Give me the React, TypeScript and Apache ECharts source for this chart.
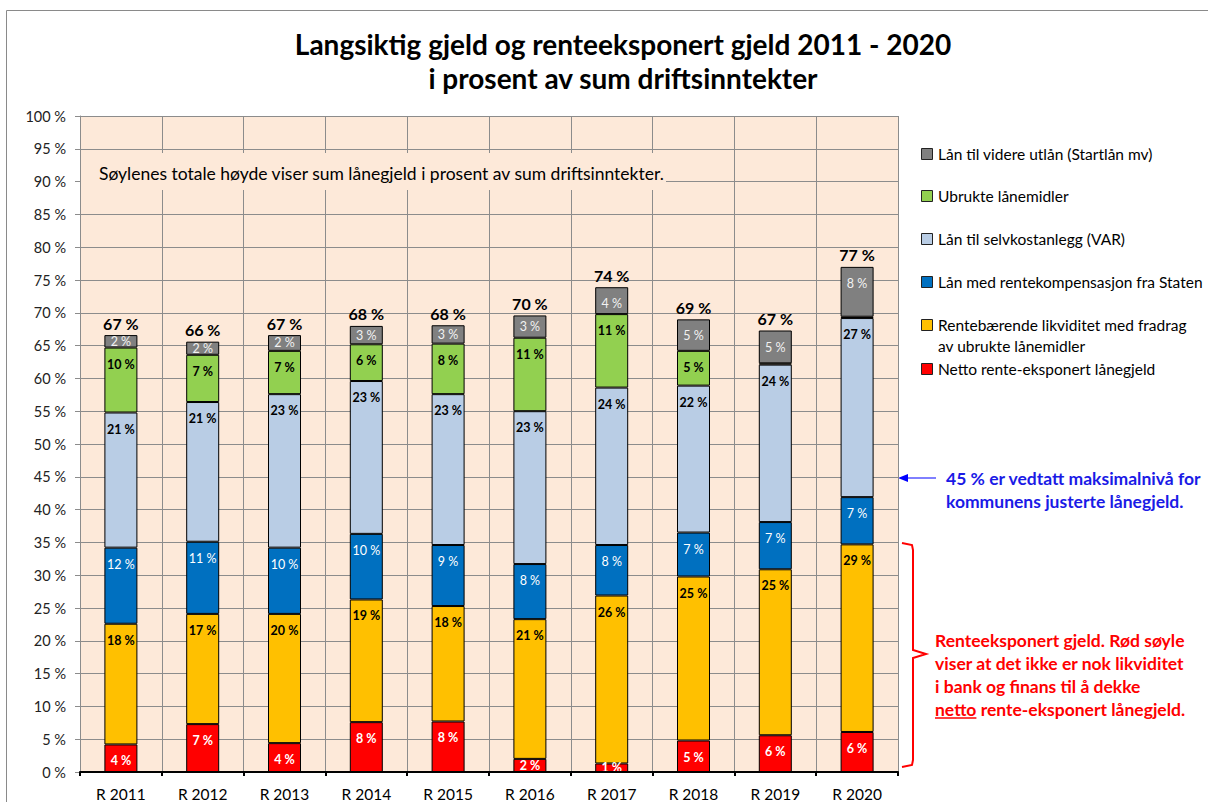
import React, { useEffect, useRef } from 'react';
import * as echarts from 'echarts';

const categories = ['R 2011', 'R 2012', 'R 2013', 'R 2014', 'R 2015', 'R 2016', 'R 2017', 'R 2018', 'R 2019', 'R 2020'];
const netto = [4.2, 7.3, 4.4, 7.6, 7.7, 2.0, 1.3, 4.8, 5.6, 6.1];
const likviditet = [18.4, 16.8, 19.7, 18.7, 17.6, 21.3, 25.6, 25.0, 25.3, 28.6];
const rentekomp = [11.6, 11.0, 10.1, 10.0, 9.3, 8.4, 7.7, 6.7, 7.2, 7.2];
const selvkost = [20.6, 21.3, 23.4, 23.3, 23.0, 23.3, 24.0, 22.4, 24.0, 27.3];
const ubrukte = [9.9, 7.2, 6.6, 5.6, 7.7, 11.2, 11.2, 5.3, 0.2, 0.2];
const videre = [1.9, 2.0, 2.4, 2.8, 2.8, 3.4, 4.1, 4.8, 5.0, 7.6];

const titleLines = ['Langsiktig gjeld og renteeksponert gjeld 2011 - 2020', 'i prosent av sum driftsinntekter'];
const noteText = 'Søylenes totale høyde viser sum lånegjeld i prosent av sum driftsinntekter.';
const blueNote = ['45 % er vedtatt maksimalnivå for', 'kommunens justerte lånegjeld.'];
const redNote = ['Renteeksponert gjeld. Rød søyle', 'viser at det ikke er nok likviditet', 'i bank og finans til å dekke'];
const redNoteLast = ['netto', ' rente-eksponert lånegjeld.'];

const FONT = 'Lato, "Open Sans", sans-serif';

const seriesMeta = [
  { name: 'Netto rente-eksponert lånegjeld', data: netto, color: '#FF0000', labelColor: '#FFFFFF', bold: true },
  { name: 'Rentebærende likviditet med fradrag\nav ubrukte lånemidler', data: likviditet, color: '#FFC000', labelColor: '#000000', bold: true },
  { name: 'Lån med rentekompensasjon fra Staten', data: rentekomp, color: '#0070C0', labelColor: '#FFFFFF', bold: false },
  { name: 'Lån til selvkostanlegg (VAR)', data: selvkost, color: '#B9CDE5', labelColor: '#000000', bold: true },
  { name: 'Ubrukte lånemidler', data: ubrukte, color: '#92D050', labelColor: '#000000', bold: true },
  { name: 'Lån til videre utlån (Startlån mv)', data: videre, color: '#808080', labelColor: '#F2F2F2', bold: false },
];

function measure(text: string, font: string): number {
  const c = document.createElement('canvas');
  const ctx = c.getContext('2d');
  if (!ctx) return text.length * 8;
  ctx.font = font;
  return ctx.measureText(text).width;
}

export default function App() {
  const ref = useRef<HTMLDivElement>(null);
  useEffect(() => {
    if (!ref.current) return;
    const chart = echarts.init(ref.current, undefined, { renderer: 'svg' });
    const totals = categories.map((_, i) => seriesMeta.reduce((s, m) => s + m.data[i], 0));

    const barSeries: any[] = seriesMeta.map((m) => ({
      name: m.name,
      type: 'bar',
      stack: 'total',
      barWidth: 33,
      itemStyle: { color: m.color, borderColor: '#000', borderWidth: 1 },
      data: m.data.map((v) => ({
        value: v,
        label: {
          show: v >= 0.5,
          position: v >= 4 ? 'insideTop' : 'inside',
          distance: 10,
        },
      })),
      label: {
        formatter: (p: any) => `${Math.round(p.value)} %`,
        color: m.labelColor,
        fontWeight: m.bold ? 'bold' : 'normal',
        fontSize: 12.5,
        fontFamily: FONT,
      },
    }));
    barSeries.push({
      name: 'Sum',
      type: 'bar',
      stack: 'total',
      barWidth: 33,
      itemStyle: { color: 'transparent', borderWidth: 0 },
      data: totals.map(() => 0),
      label: {
        show: true,
        position: 'top',
        distance: 4,
        formatter: (p: any) => `${Math.round(totals[p.dataIndex])} %`,
        color: '#000',
        fontWeight: 'bold',
        fontSize: 16,
        fontFamily: FONT,
      },
    });

    const legendItems = [...seriesMeta].reverse();
    const legendY = [154, 196, 239, 282, 325, 369];
    const legendGraphics: any[] = [];
    legendItems.forEach((m, i) => {
      const lines = m.name.split('\n');
      legendGraphics.push({
        type: 'rect',
        shape: { x: 921.5, y: legendY[i] - 5.5, width: 11, height: 11 },
        style: { fill: m.color, stroke: '#222', lineWidth: 1 },
      });
      lines.forEach((ln, j) => {
        legendGraphics.push({
          type: 'text',
          x: 938,
          y: legendY[i] + j * 21,
          style: { text: ln, fill: '#000', font: `15.5px ${FONT}`, textVerticalAlign: 'middle', textAlign: 'left' },
        });
      });
    });

    const redFont = `bold 17.5px ${FONT}`;
    const nettoW = measure(redNoteLast[0], redFont);

    const graphics: any[] = [
      {
        type: 'rect',
        shape: { x: 6.5, y: 10.5, width: 1220, height: 820 },
        style: { fill: 'none', stroke: '#8a8a8a', lineWidth: 1 },
        silent: true,
      },
      ...titleLines.map((t, i) => ({
        type: 'text',
        x: 623,
        y: 44 + i * 34,
        style: { text: t, fill: '#000', font: `bold 28px ${FONT}`, textAlign: 'center', textVerticalAlign: 'middle' },
      })),
      {
        type: 'rect',
        z: 5,
        shape: { x: 81, y: 153, width: 585, height: 37 },
        style: { fill: '#FDE9D9' },
      },
      {
        type: 'text',
        z: 6,
        x: 99,
        y: 173,
        style: { text: noteText, fill: '#000', font: `17.5px ${FONT}`, textAlign: 'left', textVerticalAlign: 'middle' },
      },
      {
        type: 'line',
        shape: { x1: 905, y1: 478, x2: 936, y2: 478 },
        style: { stroke: '#0000FF', lineWidth: 1 },
      },
      {
        type: 'polygon',
        shape: { points: [[898, 478], [908, 474], [908, 482]] },
        style: { fill: '#0000FF' },
      },
      ...blueNote.map((t, i) => ({
        type: 'text',
        x: 946,
        y: 478 + i * 23,
        style: { text: t, fill: '#1A1AE6', font: `bold 17.5px ${FONT}`, textAlign: 'left', textVerticalAlign: 'middle' },
      })),
      {
        type: 'polyline',
        shape: { points: [[902, 543], [912, 545], [913, 550], [913, 650], [926, 654], [913, 658], [913, 760], [912, 765], [902, 767]] },
        style: { stroke: '#FF0000', lineWidth: 2, fill: 'none' },
      },
      ...redNote.map((t, i) => ({
        type: 'text',
        x: 935,
        y: 640 + i * 23,
        style: { text: t, fill: '#FF0000', font: redFont, textAlign: 'left', textVerticalAlign: 'middle' },
      })),
      {
        type: 'text',
        x: 935,
        y: 709,
        style: { text: redNoteLast[0], fill: '#FF0000', font: redFont, textAlign: 'left', textVerticalAlign: 'middle' },
      },
      {
        type: 'text',
        x: 935 + nettoW,
        y: 709,
        style: { text: redNoteLast[1], fill: '#FF0000', font: redFont, textAlign: 'left', textVerticalAlign: 'middle' },
      },
      {
        type: 'line',
        shape: { x1: 935, y1: 718, x2: 935 + nettoW, y2: 718 },
        style: { stroke: '#FF0000', lineWidth: 1.5 },
      },
      ...legendGraphics,
    ];

    chart.setOption({
      animation: false,
      backgroundColor: '#FFFFFF',
      grid: {
        left: 80,
        right: 310,
        top: 116,
        bottom: 30,
        show: true,
        backgroundColor: '#FDE9D9',
        borderWidth: 0,
      },
      xAxis: {
        type: 'category',
        data: categories,
        axisLine: { show: true, lineStyle: { color: '#000', width: 2 } },
        axisTick: { show: true, length: 4, lineStyle: { color: '#000', width: 2 } },
        axisLabel: { color: '#000', fontSize: 15.5, fontFamily: FONT, margin: 14 },
        splitLine: { show: true, lineStyle: { color: '#8C8C8C', width: 1 } },
        z: 3,
      },
      yAxis: {
        type: 'value',
        min: 0,
        max: 100,
        interval: 5,
        axisLine: { show: true, lineStyle: { color: '#8C8C8C' } },
        axisTick: { show: true, length: 5, lineStyle: { color: '#8C8C8C' } },
        axisLabel: { color: '#222', fontSize: 14.5, fontFamily: FONT, margin: 14, formatter: '{value} %' },
        splitLine: { show: true, lineStyle: { color: '#8C8C8C', width: 1 } },
      },
      series: barSeries,
      graphic: { elements: graphics },
    });
    return () => chart.dispose();
  }, []);
  return <div ref={ref} style={{ position: 'fixed', left: 0, top: 0, width: 1208, height: 802 }} />;
}
